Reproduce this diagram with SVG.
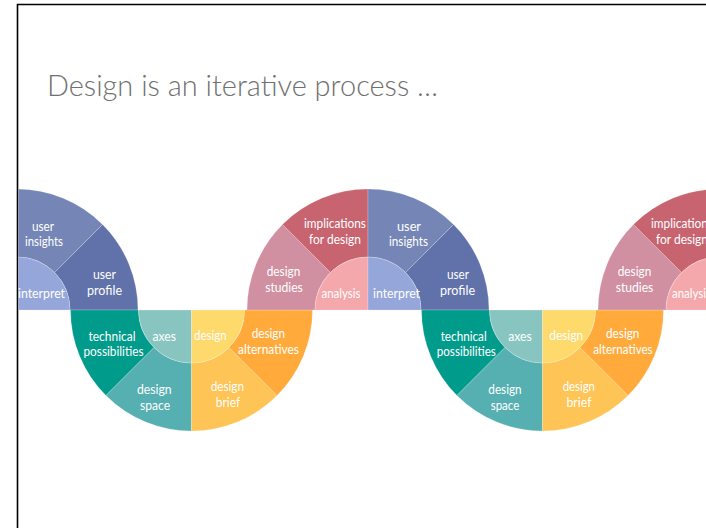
<svg xmlns="http://www.w3.org/2000/svg" xmlns:xlink="http://www.w3.org/1999/xlink" width="706" height="528" viewBox="0 0 706 528">
<style>
.lbl{font-family:Lato,"Open Sans","DejaVu Sans",sans-serif;font-size:13.6px;fill:#ffffff;text-anchor:middle}
.title{font-family:Lato,"Open Sans","DejaVu Sans",sans-serif;font-weight:300;font-size:29px;fill:#707070}
.seg{stroke:#ffffff;stroke-opacity:0.35;stroke-width:0.6}
.c-studies{fill:#d090a2}.c-impl{fill:#c8646f}.c-analysis{fill:#f5a8ab}
.c-insights{fill:#7586b6}.c-profile{fill:#6171a9}.c-interpret{fill:#94a6da}
.c-tech{fill:#019b8b}.c-space{fill:#56afb1}.c-axes{fill:#88c5c1}
.c-brief{fill:#fec455}.c-alt{fill:#ffaa3b}.c-design{fill:#fed96b}
</style>
<defs>
<clipPath id="slide"><rect x="18.5" y="5" width="690" height="523"/></clipPath>
<path id="p-studies" d="M-121,0 A121,121 0 0 1 -85.56,-85.56 L-37.48,-37.48 A53,53 0 0 0 -53,0 Z"/>
<path id="p-impl" d="M-85.56,-85.56 A121,121 0 0 1 0,-121 L0,-53 A53,53 0 0 0 -37.48,-37.48 Z"/>
<path id="p-analysis" d="M0,0 L-53,0 A53,53 0 0 1 0,-53 Z"/>
<path id="p-insights" d="M0,-121 A121,121 0 0 1 85.56,-85.56 L37.48,-37.48 A53,53 0 0 0 0,-53 Z"/>
<path id="p-profile" d="M85.56,-85.56 A121,121 0 0 1 121,0 L53,0 A53,53 0 0 0 37.48,-37.48 Z"/>
<path id="p-interpret" d="M0,0 L0,-53 A53,53 0 0 1 53,0 Z"/>
<path id="p-tech" d="M-121,0 A121,121 0 0 0 -85.56,85.56 L-37.48,37.48 A53,53 0 0 1 -53,0 Z"/>
<path id="p-space" d="M-85.56,85.56 A121,121 0 0 0 0,121 L0,53 A53,53 0 0 1 -37.48,37.48 Z"/>
<path id="p-axes" d="M0,0 L-53,0 A53,53 0 0 0 0,53 Z"/>
<path id="p-brief" d="M0,121 A121,121 0 0 0 85.56,85.56 L37.48,37.48 A53,53 0 0 1 0,53 Z"/>
<path id="p-alt" d="M85.56,85.56 A121,121 0 0 0 121,0 L53,0 A53,53 0 0 1 37.48,37.48 Z"/>
<path id="p-design" d="M0,0 L0,53 A53,53 0 0 0 53,0 Z"/>
</defs>
<rect x="0" y="0" width="706" height="528" fill="#ffffff"/>
<g id="frame" fill="none" stroke="#000000" stroke-width="1.6">
<path d="M17.5,528 V4.5 H706"/>
</g>
<text class="title" x="47" y="96" textLength="391" lengthAdjust="spacingAndGlyphs">Design is an iterative process …</text>
<g id="shapes" clip-path="url(#slide)">
<g id="u1-insights"><use xlink:href="#p-insights" x="17" y="310" class="seg c-insights"/></g>
<g id="u1-profile"><use xlink:href="#p-profile" x="17" y="310" class="seg c-profile"/></g>
<g id="u1-interpret"><use xlink:href="#p-interpret" x="17" y="310" class="seg c-interpret"/></g>
<g id="l1-tech"><use xlink:href="#p-tech" x="191.5" y="310" class="seg c-tech"/></g>
<g id="l1-space"><use xlink:href="#p-space" x="191.5" y="310" class="seg c-space"/></g>
<g id="l1-axes"><use xlink:href="#p-axes" x="191.5" y="310" class="seg c-axes"/></g>
<g id="l1-brief"><use xlink:href="#p-brief" x="191.5" y="310" class="seg c-brief"/></g>
<g id="l1-alt"><use xlink:href="#p-alt" x="191.5" y="310" class="seg c-alt"/></g>
<g id="l1-design"><use xlink:href="#p-design" x="191.5" y="310" class="seg c-design"/></g>
<g id="u2-studies"><use xlink:href="#p-studies" x="368" y="310" class="seg c-studies"/></g>
<g id="u2-impl"><use xlink:href="#p-impl" x="368" y="310" class="seg c-impl"/></g>
<g id="u2-analysis"><use xlink:href="#p-analysis" x="368" y="310" class="seg c-analysis"/></g>
<g id="u2-insights"><use xlink:href="#p-insights" x="368" y="310" class="seg c-insights"/></g>
<g id="u2-profile"><use xlink:href="#p-profile" x="368" y="310" class="seg c-profile"/></g>
<g id="u2-interpret"><use xlink:href="#p-interpret" x="368" y="310" class="seg c-interpret"/></g>
<g id="l2-tech"><use xlink:href="#p-tech" x="542.5" y="310" class="seg c-tech"/></g>
<g id="l2-space"><use xlink:href="#p-space" x="542.5" y="310" class="seg c-space"/></g>
<g id="l2-axes"><use xlink:href="#p-axes" x="542.5" y="310" class="seg c-axes"/></g>
<g id="l2-brief"><use xlink:href="#p-brief" x="542.5" y="310" class="seg c-brief"/></g>
<g id="l2-alt"><use xlink:href="#p-alt" x="542.5" y="310" class="seg c-alt"/></g>
<g id="l2-design"><use xlink:href="#p-design" x="542.5" y="310" class="seg c-design"/></g>
<g id="u3-studies"><use xlink:href="#p-studies" x="719" y="310" class="seg c-studies"/></g>
<g id="u3-impl"><use xlink:href="#p-impl" x="719" y="310" class="seg c-impl"/></g>
<g id="u3-analysis"><use xlink:href="#p-analysis" x="719" y="310" class="seg c-analysis"/></g>
</g>
<g id="labels">
<text class="lbl" x="43" y="230.5" textLength="22" lengthAdjust="spacingAndGlyphs">user</text>
<text class="lbl" x="44" y="245.5" textLength="38" lengthAdjust="spacingAndGlyphs">insights</text>
<text class="lbl" x="41.5" y="298" textLength="47" lengthAdjust="spacingAndGlyphs">interpret</text>
<text class="lbl" x="104.5" y="278.5" textLength="23" lengthAdjust="spacingAndGlyphs">user</text>
<text class="lbl" x="104.5" y="294.5" textLength="35" lengthAdjust="spacingAndGlyphs">profile</text>

<text class="lbl" x="112" y="340.5" textLength="47" lengthAdjust="spacingAndGlyphs">technical</text>
<text class="lbl" x="113.5" y="356" textLength="60" lengthAdjust="spacingAndGlyphs">possibilities</text>
<text class="lbl" x="164.3" y="340.5" textLength="23.5" lengthAdjust="spacingAndGlyphs">axes</text>
<text class="lbl" x="210.3" y="339.5" textLength="32.7" lengthAdjust="spacingAndGlyphs">design</text>
<text class="lbl" x="268.3" y="337.5" textLength="33.3" lengthAdjust="spacingAndGlyphs">design</text>
<text class="lbl" x="268.5" y="353.5" textLength="61" lengthAdjust="spacingAndGlyphs">alternatives</text>
<text class="lbl" x="154.3" y="393.5" textLength="34.7" lengthAdjust="spacingAndGlyphs">design</text>
<text class="lbl" x="155" y="409.5" textLength="30" lengthAdjust="spacingAndGlyphs">space</text>
<text class="lbl" x="227.3" y="390.5" textLength="33.3" lengthAdjust="spacingAndGlyphs">design</text>
<text class="lbl" x="228" y="407" textLength="24.3" lengthAdjust="spacingAndGlyphs">brief</text>

<text class="lbl" x="335" y="227.5" textLength="62" lengthAdjust="spacingAndGlyphs">implications</text>
<text class="lbl" x="335" y="243.5" textLength="52" lengthAdjust="spacingAndGlyphs">for design</text>
<text class="lbl" x="283.5" y="275.5" textLength="33.5" lengthAdjust="spacingAndGlyphs">design</text>
<text class="lbl" x="284" y="292" textLength="37.7" lengthAdjust="spacingAndGlyphs">studies</text>
<text class="lbl" x="341" y="297.5" textLength="39" lengthAdjust="spacingAndGlyphs">analysis</text>
<text class="lbl" x="409" y="230.5" textLength="24" lengthAdjust="spacingAndGlyphs">user</text>
<text class="lbl" x="408.5" y="245.5" textLength="39" lengthAdjust="spacingAndGlyphs">insights</text>
<text class="lbl" x="396.5" y="298" textLength="47" lengthAdjust="spacingAndGlyphs">interpret</text>
<text class="lbl" x="458" y="278.5" textLength="22" lengthAdjust="spacingAndGlyphs">user</text>
<text class="lbl" x="457.5" y="294.5" textLength="35" lengthAdjust="spacingAndGlyphs">profile</text>

<text class="lbl" x="463.7" y="340.5" textLength="46" lengthAdjust="spacingAndGlyphs">technical</text>
<text class="lbl" x="466.3" y="356" textLength="59" lengthAdjust="spacingAndGlyphs">possibilities</text>
<text class="lbl" x="520" y="340.5" textLength="23.5" lengthAdjust="spacingAndGlyphs">axes</text>
<text class="lbl" x="566.3" y="339.5" textLength="34" lengthAdjust="spacingAndGlyphs">design</text>
<text class="lbl" x="622.7" y="337.5" textLength="33.3" lengthAdjust="spacingAndGlyphs">design</text>
<text class="lbl" x="623" y="353.5" textLength="59.3" lengthAdjust="spacingAndGlyphs">alternatives</text>
<text class="lbl" x="505" y="393.5" textLength="33.3" lengthAdjust="spacingAndGlyphs">design</text>
<text class="lbl" x="505" y="409.5" textLength="28.7" lengthAdjust="spacingAndGlyphs">space</text>
<text class="lbl" x="578.8" y="390.5" textLength="32.3" lengthAdjust="spacingAndGlyphs">design</text>
<text class="lbl" x="579" y="407" textLength="25" lengthAdjust="spacingAndGlyphs">brief</text>

<text class="lbl" x="682" y="227.5" textLength="62" lengthAdjust="spacingAndGlyphs">implications</text>
<text class="lbl" x="682" y="243.5" textLength="52" lengthAdjust="spacingAndGlyphs">for design</text>
<text class="lbl" x="634.5" y="275.5" textLength="33.5" lengthAdjust="spacingAndGlyphs">design</text>
<text class="lbl" x="634.5" y="292" textLength="37.7" lengthAdjust="spacingAndGlyphs">studies</text>
<text class="lbl" x="691.5" y="297.5" textLength="39" lengthAdjust="spacingAndGlyphs">analysis</text>
</g>
<g id="connectors"/>
</svg>
